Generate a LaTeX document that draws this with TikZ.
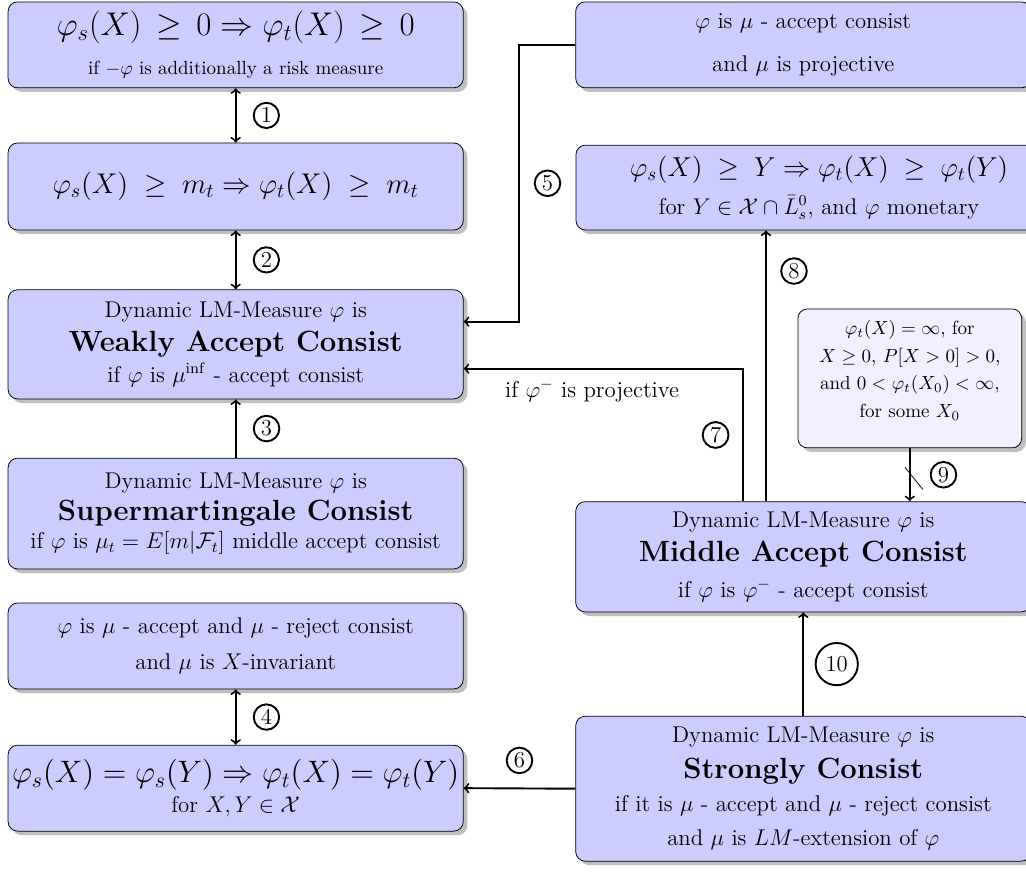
\RequirePackage{fix-cm}
\documentclass[tikz,border=0pt]{standalone}
\usetikzlibrary{shadows}
\spaceskip=5.5pt plus 1pt minus 1pt
\newcommand{\boxtitle}[1]{{\fontsize{15.4}{18}\selectfont\bfseries\spaceskip=0pt\relax #1}}

\begin{document}
\begin{tikzpicture}[
  box/.style={draw, rounded corners=5pt, fill=blue!20, drop shadow, align=center,
    font=\large, minimum width=8.42cm},
  notebox/.style={box, fill=blue!6, font=\normalsize, minimum width=4.14cm},
  link/.style={line width=1pt},
  num/.style={draw, circle, inner sep=1.2pt, font=\large},
]
\useasboundingbox (0,0) rectangle (18.98,-16.13);

% left column
\node[box, minimum height=1.59cm] (A) at (4.36,-0.83)
  {{\LARGE $\varphi_s(X)\,\geq\,0 \Rightarrow \varphi_t(X)\,\geq\,0$}\\[6.5pt]
   {\normalsize if $-\varphi$ is additionally a risk measure}};
\node[box, minimum height=1.61cm] (B) at (4.36,-3.45)
  {\fontsize{15}{18}\selectfont $\varphi_s(X)\;\geq\;m_t \Rightarrow \varphi_t(X)\;\geq\;m_t$};
\node[box, minimum height=2.02cm] (C) at (4.36,-6.37)
  {Dynamic LM-Measure $\varphi$ is\\[4pt]
   \boxtitle{Weakly Accept Consist}\\[2pt]
   if $\varphi$ is $\mu^{\inf}$ - accept consist};
\node[box, minimum height=2.05cm] (D) at (4.36,-9.50)
  {Dynamic LM-Measure $\varphi$ is\\[3pt]
   \boxtitle{Supermartingale Consist}\\[1pt]
   if $\varphi$ is $\mu_t = E[m|\mathcal{F}_t]$ middle accept consist};
\node[box, minimum height=1.59cm] (E) at (4.36,-11.95)
  {$\varphi$ is $\mu$ - accept and $\mu$ - reject consist\\[5pt]
   and $\mu$ is $X$-invariant};
\node[box, minimum height=1.59cm, inner xsep=1pt] (F) at (4.36,-14.58)
  {{\fontsize{16.3}{19.5}\selectfont $\varphi_s(X) = \varphi_s(Y) \Rightarrow \varphi_t(X) = \varphi_t(Y)$}\\[2pt]
   for $X,Y \in \mathcal{X}$};

% right column
\node[box, minimum height=1.59cm] (G) at (14.86,-0.83)
  {$\varphi$ is $\mu$ - accept consist\\[8.5pt]
   and $\mu$ is projective};
\node[box, minimum height=1.57cm, minimum width=8.99cm] (H) at (15.15,-3.47)
  {{\Large $\varphi_s(X)\;\geq\;Y \Rightarrow \varphi_t(X)\;\geq\;\varphi_t(Y)$}\\[6pt]
   for $Y \in \mathcal{X} \cap \bar{L}^0_s$, and $\varphi$ monetary};
\node[notebox, minimum height=2.57cm] (I) at (16.83,-7.00)
  {$\varphi_t(X) = \infty$, for\\[2.5pt]
   $X \geq 0$, $P[X>0]>0$,\\[2.5pt]
   and $0<\varphi_t(X_0)<\infty$,\\[2.5pt]
   for some $X_0$\\[-2pt]\mbox{}};
\node[box, minimum height=2.04cm] (J) at (14.86,-10.30)
  {Dynamic LM-Measure $\varphi$ is\\[4pt]
   \boxtitle{Middle Accept Consist}\\[4.5pt]
   if $\varphi$ is $\varphi^-$ - accept consist};
\node[box, minimum height=2.68cm] (K) at (14.86,-14.59)
  {Dynamic LM-Measure $\varphi$ is\\[4.5pt]
   \boxtitle{Strongly Consist}\\[3.5pt]
   if it is $\mu$ - accept and $\mu$ - reject consist\\[4pt]
   and $\mu$ is $LM$-extension of $\varphi$};

% connectors
\coordinate (j7) at ([xshift=-1.12cm]J.north);
\coordinate (j8) at ([xshift=-0.69cm]J.north);

\draw[link,<->] (A.south) -- node[num, right=9pt] {1} (B.north);
\draw[link,<->] (B.south) -- node[num, right=9pt] {2} (C.north);
\draw[link,->] (D.north) -- node[num, right=9pt] {3} (C.south);
\draw[link,<->] (E.south) -- node[num, right=9pt] {4} (F.north);
\draw[link,->] (G.west) -- ++(-1.05,0) |- node[num, pos=0.25, right=8pt] {5}
  ([yshift=0.42cm]C.east);
\draw[link,->] (K.west) -- node[num, above=7.5pt] {6} (F.east);
\draw[link,->] (j7) |- node[num, pos=0.25, left=7pt] {7}
  node[pos=0.77, below=2pt, font=\large] {if $\varphi^-$ is projective}
  ([yshift=-0.45cm]C.east);
\draw[link,->] (j8) -- node[num, pos=0.85, right=7.5pt] {8} (j8 |- H.south);
\draw[link,->] (I.south) -- coordinate[midway] (cut)
  node[num, midway, right=10.5pt] {9} (I.south |- J.north);
\draw ([shift={(-0.09,0.14)}]cut) -- ([shift={(0.24,-0.27)}]cut);
\draw[link,->] (K.north) -- node[num, inner sep=2.8pt, right=6pt] {10} (J.south);
\end{tikzpicture}
\end{document}
